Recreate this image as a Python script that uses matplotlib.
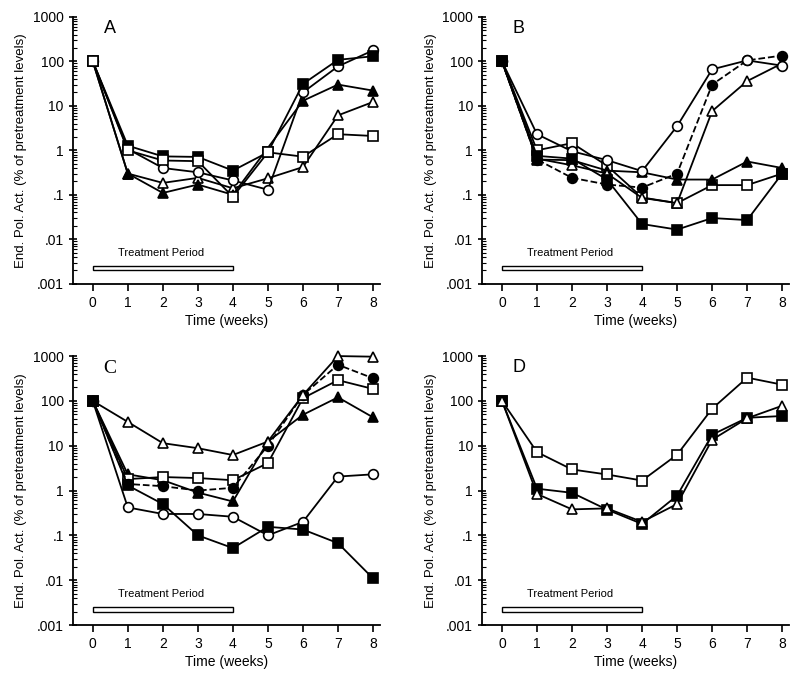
import numpy as np
import matplotlib.pyplot as plt
from matplotlib.patches import Rectangle

plt.rcParams['font.family'] = ['Liberation Sans', 'DejaVu Sans']

weeks = [0, 1, 2, 3, 4, 5, 6, 7, 8]
weeks_no5 = [0, 1, 2, 3, 4, 6, 7, 8]

# panel A
a_filled_sq = [100, 1.27, 0.73, 0.71, 0.35, 0.9, 31, 108, 130]
a_open_circ = [100, 1.07, 0.4, 0.32, 0.21, 0.13, 20, 77, 176]
a_filled_tri = [100, 0.3, 0.11, 0.17, 0.1, 13, 30, 22]
a_open_tri = [100, 0.3, 0.185, 0.24, 0.14, 0.235, 0.42, 6.1, 12.2]
a_open_sq = [100, 1.0, 0.59, 0.57, 0.09, 0.9, 0.72, 2.3, 2.1]

# panel B
b_open_circ = [100, 2.3, 0.95, 0.6, 0.34, 3.5, 66, 105, 80]
b_filled_circ = [100, 0.62, 0.24, 0.17, 0.145, 0.3, 30, 105, 135]
b_open_tri = [100, 0.65, 0.46, 0.3, 0.085, 0.065, 7.6, 36, 90]
b_filled_tri = [100, 0.62, 0.6, 0.35, 0.32, 0.22, 0.22, 0.56, 0.4]
b_open_sq = [100, 1.0, 1.45, 0.45, 0.087, 0.065, 0.165, 0.165, 0.3]
b_filled_sq = [100, 0.75, 0.65, 0.22, 0.022, 0.0165, 0.03, 0.027, 0.3]

# panel C
c_open_tri = [100, 34, 11.4, 8.8, 6.2, 12.4, 135, 1000, 970]
c_filled_circ = [100, 1.4, 1.25, 1.0, 1.15, 10, 135, 640, 320]
c_open_sq = [100, 1.8, 2.0, 1.9, 1.7, 4.1, 115, 290, 185]
c_filled_tri = [100, 2.3, 1.7, 0.9, 0.57, 12.4, 49, 120, 43]
c_open_circ = [100, 0.42, 0.3, 0.3, 0.26, 0.1, 0.2, 2.05, 2.3]
c_filled_sq = [100, 1.3, 0.5, 0.1, 0.052, 0.155, 0.135, 0.067, 0.011]

# panel D
d_open_sq = [100, 7.2, 2.95, 2.28, 1.67, 6.3, 67, 330, 230]
d_filled_sq = [100, 1.1, 0.89, 0.375, 0.18, 0.77, 17.6, 42, 46]
d_open_tri = [100, 0.84, 0.38, 0.4, 0.2, 0.5, 13.6, 41, 78]

styles = {
    'open_sq': dict(marker='s', mfc='white'),
    'filled_sq': dict(marker='s', mfc='black'),
    'open_circ': dict(marker='o', mfc='white'),
    'filled_circ': dict(marker='o', mfc='black', ls='--'),
    'open_tri': dict(marker='^', mfc='white'),
    'filled_tri': dict(marker='^', mfc='black'),
}

# drawing order: last one ends up on top
panels = [
    ('A', [0.091, 0.579, 0.384, 0.396], 'sans', [
        (weeks, a_open_tri, 'open_tri'), (weeks_no5, a_filled_tri, 'filled_tri'),
        (weeks, a_open_circ, 'open_circ'), (weeks, a_filled_sq, 'filled_sq'),
        (weeks, a_open_sq, 'open_sq')]),
    ('B', [0.6025, 0.579, 0.384, 0.396], 'sans', [
        (weeks, b_open_sq, 'open_sq'), (weeks, b_filled_tri, 'filled_tri'),
        (weeks, b_open_tri, 'open_tri'), (weeks, b_filled_circ, 'filled_circ'),
        (weeks, b_open_circ, 'open_circ'), (weeks, b_filled_sq, 'filled_sq')]),
    ('C', [0.091, 0.0727, 0.384, 0.399], 'serif', [
        (weeks, c_open_circ, 'open_circ'), (weeks, c_filled_tri, 'filled_tri'),
        (weeks, c_open_sq, 'open_sq'), (weeks, c_filled_circ, 'filled_circ'),
        (weeks, c_open_tri, 'open_tri'), (weeks, c_filled_sq, 'filled_sq')]),
    ('D', [0.6025, 0.0727, 0.384, 0.399], 'sans', [
        (weeks, d_open_sq, 'open_sq'), (weeks, d_filled_sq, 'filled_sq'),
        (weeks, d_open_tri, 'open_tri')]),
]

fig = plt.figure(figsize=(8, 6.74), dpi=100)

for letter, rect, letter_font, series in panels:
    ax = fig.add_axes(rect)
    for x, y, kind in series:
        st = dict(styles[kind])
        ls = st.pop('ls', '-')
        ax.plot(x, y, color='black', lw=1.3, ls=ls, mec='black', mew=1.2,
                ms=7.5 if st['marker'] != 'o' else 7, clip_on=False, **st)

    ax.set_yscale('log')
    ax.set_ylim(0.001, 1000)
    ax.set_xlim(-0.57, 8.2)
    ax.set_yticks([0.001, 0.01, 0.1, 1, 10, 100, 1000])
    ax.set_yticklabels(['.001', '.01', '.1', '1', '10', '100', '1000'])
    ax.set_xticks(weeks)
    ax.spines['top'].set_visible(False)
    ax.spines['right'].set_visible(False)
    ax.spines['left'].set_linewidth(1.3)
    ax.spines['bottom'].set_linewidth(1.3)
    ax.tick_params(axis='y', which='major', direction='inout', length=6, width=1.2, labelsize=10)
    ax.tick_params(axis='y', which='minor', direction='in', length=3, width=0.8)
    ax.tick_params(axis='x', direction='out', length=5, width=1.2, labelsize=10)
    ax.set_xlabel('Time (weeks)', fontsize=10, labelpad=3)
    ax.set_ylabel('End. Pol. Act. (% of pretreatment levels)', fontsize=9.5, labelpad=4)

    # treatment bar
    ax.add_patch(Rectangle((0, 0.002), 4, 0.0005, facecolor='white',
                           edgecolor='black', lw=1.0, zorder=3))
    ax.text(1.95, 0.0048, 'Treatment Period', fontsize=8, ha='center', va='center')

    if letter_font == 'serif':
        ax.text(0.1, 0.985, letter, transform=ax.transAxes, fontsize=14,
                family=['Liberation Serif', 'DejaVu Serif'], va='top')
    else:
        ax.text(0.1, 0.99, letter, transform=ax.transAxes, fontsize=13, va='top')

fig.savefig('out.png', dpi=100)
